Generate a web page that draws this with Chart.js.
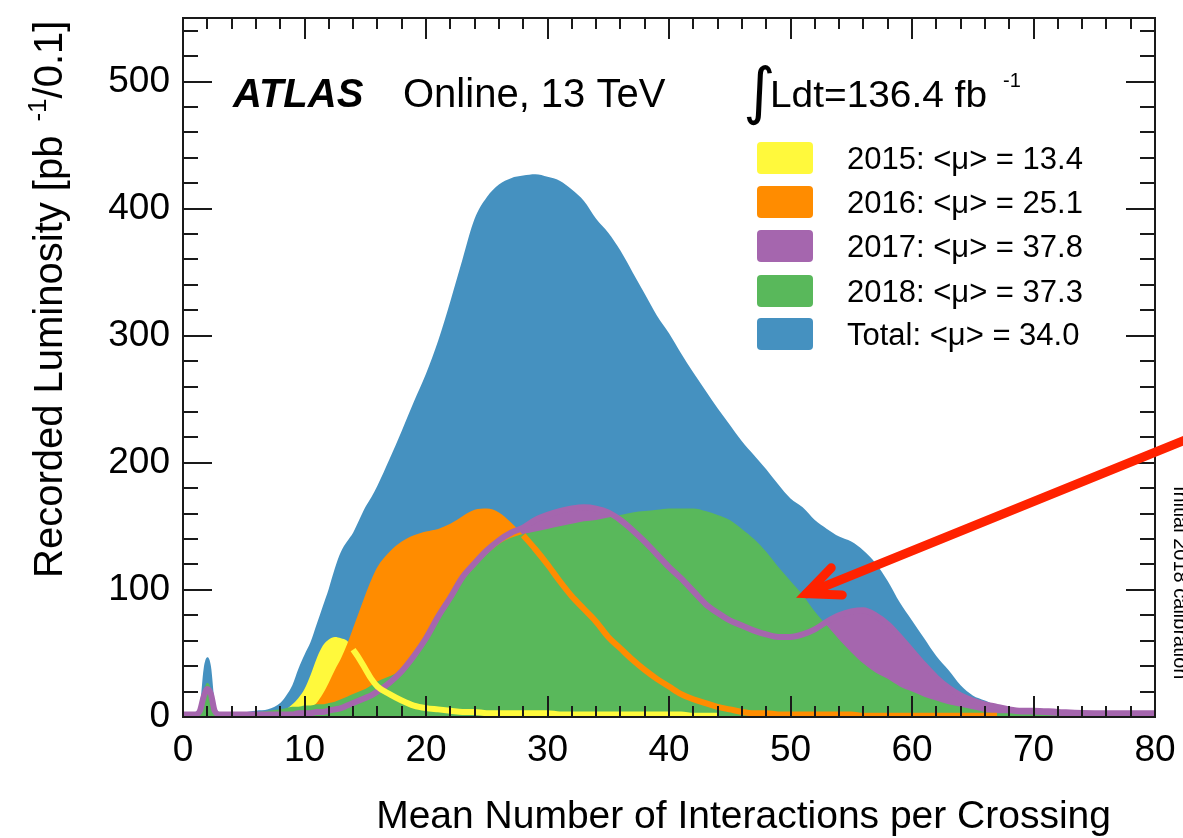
<!DOCTYPE html>
<html>
<head>
<meta charset="utf-8">
<script src="https://cdn.jsdelivr.net/npm/chart.js@4.4.1/dist/chart.umd.min.js"></script>
<style>
  html, body { margin: 0; padding: 0; background: #fff; }
  #wrap { width: 1183px; height: 838px; }
</style>
</head>
<body>
<div id="wrap"><canvas id="chart" width="1183" height="838"></canvas></div>
<script>
const FONT = '"Liberation Sans", Arial, Helvetica, sans-serif'

// mean number of interactions per crossing (x positions of the read-off points)
const mu = [0, 1, 1.4, 1.7, 2, 2.3, 2.6, 3, 4, 5, 6, 7, 8, 8.5, 9, 9.5, 10, 10.5, 11, 11.5, 12, 12.5, 13, 13.5, 14, 14.5, 15, 15.5, 16,
    17, 18, 19, 20, 21, 22, 23, 24, 25, 26, 27, 28, 29, 30, 31, 32, 33, 34, 35, 36, 37, 38, 39, 40,
    41, 42, 43, 44, 45, 46, 47, 48, 49, 50, 51, 52, 53, 54, 55, 56, 57, 58, 59, 60,
    61, 62, 63, 64, 65, 66, 67, 68, 69, 70, 72, 75, 80]

// recorded luminosity [pb^-1 / 0.1]
const lumiTotal = [3, 4, 10, 38, 47, 40, 12, 4, 4, 4, 5, 6, 11, 17, 25, 38, 49, 59, 73, 87, 101, 117, 130, 138, 145, 155, 165, 173, 182,
    203, 225, 248, 270, 296, 327, 360, 392, 409, 419, 424, 426, 427, 425, 422, 415, 406, 392, 381, 367, 350, 333, 316, 302,
    286, 271, 257, 243, 230, 217, 206, 195, 183, 172, 165, 155, 148, 142, 138, 131, 121, 107, 90, 76,
    62, 48, 37, 25, 17, 13, 9, 7, 6, 5, 4, 3, 2]
const lumi2015 = [0, 0, 0, 1, 1, 1, 0, 0, 0, 0, 0, 1, 3, 6, 10, 15, 22, 33, 46, 56, 61, 63, 62, 60, 53, 46, 38, 30, 24,
    18, 13, 9, 7, 6, 5, 4, 4, 3, 3, 3, 3, 3, 3, 2, 2, 2, 2, 2, 2, 2, 2, 2, 2,
    2, 1, 1, 1, 0, 0, 0, 0, 0, 0, 0, 0, 0, 0, 0, 0, 0, 0, 0, 0,
    0, 0, 0, 0, 0, 0, 0, 0, 0, 0, 0, 0, 0]
const lumi2016 = [0, 1, 1, 1, 1, 1, 1, 0, 0, 0, 0, 0, 1, 1, 2, 3, 4, 7, 11, 18, 27, 37, 46, 57, 70, 83, 96, 108, 118,
    130, 138, 143, 146, 148, 152, 158, 163, 164, 161, 153, 143, 132, 120, 107, 95, 85, 75, 63, 54, 45, 37, 30, 24,
    18, 14, 11, 8, 6, 4, 3, 3, 2, 2, 2, 2, 2, 2, 2, 1, 1, 1, 1, 1,
    1, 1, 1, 1, 1, 1, 1, 0, 0, 0, 0, 0, 0]
const lumi2017 = [2, 2, 5, 16, 22, 18, 5, 2, 2, 2, 2, 2, 2, 2, 2, 3, 3, 3, 4, 4, 5, 6, 7, 9, 11, 13, 15, 17, 20,
    27, 36, 48, 62, 79, 94, 110, 121, 131, 139, 145, 149, 155, 159, 162, 164, 165, 164, 161, 155, 147, 138, 128, 118,
    109, 99, 89, 82, 76, 72, 68, 65, 63, 63, 65, 69, 75, 80, 83, 84, 80, 73, 63, 52,
    41, 31, 23, 17, 13, 10, 8, 6, 5, 5, 4, 3, 3]
const lumi2018 = [3, 3, 6, 20, 27, 22, 7, 4, 4, 4, 4, 5, 6, 7, 8, 8, 9, 9, 10, 10, 11, 12, 14, 16, 18, 20, 22, 25, 28,
    32, 37, 45, 59, 76, 91, 107, 118, 128, 136, 141, 144, 146, 148, 150, 152, 154, 155, 157, 159, 161, 162, 163, 164,
    164, 164, 162, 159, 155, 148, 140, 130, 118, 107, 96, 83, 72, 61, 51, 42, 35, 30, 24, 20,
    16, 13, 10, 8, 6, 4, 3, 3, 2, 2, 1, 0, 0]

// outlines of the single years start where they drop below the next year
const outlineStart2015 = 14
const outlineStart2016 = 28

const legendLabels = ['2015: <μ> = 13.4', '2016: <μ> = 25.1', '2017: <μ> = 37.8', '2018: <μ> = 37.3', 'Total: <μ> = 34.0']

const colors = {
    y2015: '#fff93c',
    y2016: '#ff8c00',
    y2017: '#a566ae',
    y2018: '#59b85b',
    total: '#4591c0'
}
const legendColors = [colors.y2015, colors.y2016, colors.y2017, colors.y2018, colors.total]

const toPoints = arr => mu.map((m, i) => ({ x: m, y: arr[i] }))
const toOutline = (arr, start) => mu.map((m, i) => ({ x: m, y: (m >= start && arr[i] > 0) ? arr[i] : null }))

const filled = (data, color, order) => ({
    data: toPoints(data),
    backgroundColor: color,
    borderWidth: 0,
    fill: 'origin',
    pointRadius: 0,
    cubicInterpolationMode: 'monotone',
    order: order
})
const outline = (points, color, order) => ({
    data: points,
    borderColor: color,
    borderWidth: 6,
    fill: false,
    pointRadius: 0,
    cubicInterpolationMode: 'monotone',
    spanGaps: false,
    order: order
})

// ROOT style frame with inward ticks on all four sides
const frame = {
    id: 'frame',
    afterDatasetsDraw(chart) {
        const { ctx, chartArea: a, scales: { x, y } } = chart
        ctx.save()
        ctx.strokeStyle = '#1a1a1a'
        ctx.lineWidth = 2
        const seg = (x1, y1, x2, y2) => {
            ctx.beginPath(); ctx.moveTo(x1, y1); ctx.lineTo(x2, y2); ctx.stroke()
        }
        for (let v = 0; v <= 80; v += 2) {
            const px = Math.round(x.getPixelForValue(v))
            const len = v % 10 === 0 ? 21 : 11
            seg(px, a.bottom, px, a.bottom - len)
            seg(px, a.top, px, a.top + len)
        }
        for (let v = 0; v <= 540; v += 20) {
            const py = Math.round(y.getPixelForValue(v))
            const len = v % 100 === 0 ? 29 : 15
            seg(a.left, py, a.left + len, py)
            seg(a.right, py, a.right - len, py)
        }
        ctx.strokeRect(a.left, a.top, a.right - a.left, a.bottom - a.top)
        ctx.restore()
    }
}

const labels = {
    id: 'labels',
    afterDraw(chart) {
        const { ctx, scales: { x, y } } = chart
        ctx.save()
        ctx.fillStyle = '#000'
        ctx.textBaseline = 'alphabetic'

        ctx.font = 'italic bold 40px ' + FONT
        ctx.fillText('ATLAS', 233, 107)
        ctx.font = '40px ' + FONT
        ctx.fillText('Online, 13 TeV', 403, 107)

        // integrated luminosity
        ctx.font = '62px "DejaVu Sans"'
        ctx.fillText('∫', 743, 112)
        ctx.font = '36px ' + FONT
        const ldt = 'Ldt=136.4 fb'
        const w = ctx.measureText(ldt).width
        ctx.save()
        ctx.translate(770, 107)
        ctx.scale(217 / w, 1)
        ctx.fillText(ldt, 0, 0)
        ctx.restore()
        ctx.font = '20px ' + FONT
        ctx.fillText('-1', 1003, 87)

        // legend
        const rows = [158, 202, 246, 291, 334]
        legendLabels.forEach((txt, i) => {
            ctx.fillStyle = legendColors[i]
            ctx.beginPath()
            ctx.roundRect(757, rows[i] - 16, 56, 32, 4)
            ctx.fill()
            ctx.fillStyle = '#000'
            ctx.font = '31px ' + FONT
            ctx.fillText(txt, 847, rows[i] + 11)
        })

        // axis titles
        ctx.font = '39px ' + FONT
        ctx.textAlign = 'right'
        ctx.fillText('Mean Number of Interactions per Crossing', 1111, 828)
        ctx.textAlign = 'left'

        ctx.save()
        ctx.translate(62, 578)
        ctx.rotate(-Math.PI / 2)
        ctx.font = '40px ' + FONT
        let cx = 0
        const part1 = 'Recorded Luminosity [pb'
        ctx.fillText(part1, cx, 0)
        cx += ctx.measureText(part1).width + 14
        ctx.font = '26px ' + FONT
        ctx.fillText('-1', cx, -16)
        cx += ctx.measureText('-1').width
        ctx.font = '40px ' + FONT
        ctx.fillText('/0.1]', cx, 0)
        ctx.restore()

        // annotation arrow, pointing at the 2018 curve
        const tipX = x.getPixelForValue(51.3), tipY = y.getPixelForValue(97)
        const tailX = x.getPixelForValue(83), tailY = y.getPixelForValue(220)
        const ang = Math.atan2(tailY - tipY, tailX - tipX)
        ctx.strokeStyle = '#ff2200'
        ctx.lineWidth = 9
        ctx.lineCap = 'round'
        ctx.beginPath()
        ctx.moveTo(tailX, tailY); ctx.lineTo(tipX, tipY)
        ctx.stroke()
        ctx.beginPath()
        ctx.moveTo(tipX + 36 * Math.cos(ang - 0.42), tipY + 36 * Math.sin(ang - 0.42))
        ctx.lineTo(tipX, tipY)
        ctx.lineTo(tipX + 36 * Math.cos(ang + 0.42), tipY + 36 * Math.sin(ang + 0.42))
        ctx.stroke()

        // side note, cut by the page edge
        ctx.save()
        ctx.translate(1174, 486)
        ctx.rotate(Math.PI / 2)
        ctx.fillStyle = '#000'
        ctx.font = '20px ' + FONT
        ctx.fillText('Initial 2018 calibration', 0, 0)
        ctx.restore()

        ctx.restore()
    }
}

const ctx = document.getElementById('chart')
const chart = new Chart(ctx, {
    type: 'line',
    data: {
        datasets: [
            filled(lumiTotal, colors.total, 10),
            filled(lumi2017, colors.y2017, 9),
            filled(lumi2015, colors.y2015, 8),
            filled(lumi2016, colors.y2016, 7),
            filled(lumi2018, colors.y2018, 6),
            outline(toOutline(lumi2017, 0), colors.y2017, 3),
            outline(toOutline(lumi2016, outlineStart2016), colors.y2016, 2),
            outline(toOutline(lumi2015, outlineStart2015), colors.y2015, 1)
        ]
    },
    options: {
        responsive: false,
        animation: false,
        events: [],
        layout: { padding: { left: 0, top: 18, right: 28, bottom: 0 } },
        plugins: {
            legend: { display: false },
            tooltip: { enabled: false }
        },
        scales: {
            x: {
                type: 'linear',
                min: 0,
                max: 80,
                grid: { display: false, drawTicks: false },
                border: { display: false },
                ticks: {
                    stepSize: 10,
                    autoSkip: false,
                    maxRotation: 0,
                    padding: 12,
                    color: '#000',
                    font: { family: FONT, size: 37 }
                },
                afterFit: s => {
                    s.height = 121
                    s.paddingLeft = 0
                    s.paddingRight = 0
                }
            },
            y: {
                type: 'linear',
                min: 0,
                max: 550,
                grid: { display: false, drawTicks: false },
                border: { display: false },
                ticks: {
                    stepSize: 100,
                    includeBounds: false,
                    padding: 13,
                    color: '#000',
                    font: { family: FONT, size: 37 }
                },
                afterFit: s => {
                    s.width = 183
                    s.paddingTop = 0
                    s.paddingBottom = 0
                }
            }
        }
    },
    plugins: [frame, labels]
})
</script>
</body>
</html>
